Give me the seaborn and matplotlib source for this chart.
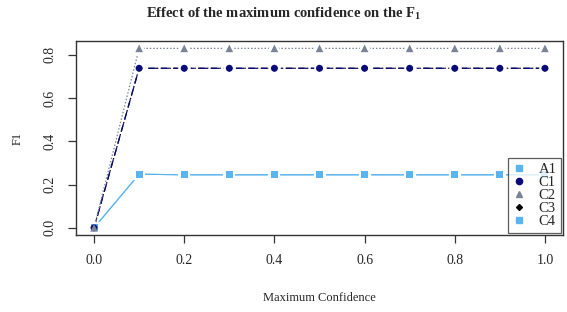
import numpy as np
import pandas as pd
import matplotlib
matplotlib.use("Agg")
import matplotlib.pyplot as plt
import seaborn as sns
from matplotlib.lines import Line2D

# 数据：最大置信度 vs F1
max_conf = [0.0, 0.1, 0.2, 0.3, 0.4, 0.5, 0.6, 0.7, 0.8, 0.9, 1.0]
f1_a1 = [0.0, 0.248, 0.245, 0.245, 0.245, 0.245, 0.245, 0.245, 0.245, 0.245, 0.245]
f1_c1 = [0.0, 0.737, 0.737, 0.737, 0.737, 0.737, 0.737, 0.737, 0.737, 0.737, 0.737]
f1_c2 = [0.0, 0.829, 0.829, 0.829, 0.829, 0.829, 0.829, 0.829, 0.829, 0.829, 0.829]
f1_c3 = [0.0, 0.737, 0.737, 0.737, 0.737, 0.737, 0.737, 0.737, 0.737, 0.737, 0.737]
f1_c4 = [0.0, 0.248, 0.245, 0.245, 0.245, 0.245, 0.245, 0.245, 0.245, 0.245, 0.245]
series_names = ["A1", "C1", "C2", "C3", "C4"]

sns.set_style("ticks")
plt.rcParams["font.family"] = ["Liberation Serif", "DejaVu Serif"]
plt.rcParams["mathtext.fontset"] = "custom"
plt.rcParams["mathtext.rm"] = "Liberation Serif"
plt.rcParams["mathtext.bf"] = "Liberation Serif:bold"

df = pd.DataFrame({"x": max_conf, "A1": f1_a1, "C1": f1_c1, "C2": f1_c2,
                   "C3": f1_c3, "C4": f1_c4})

# 样式（颜色、标记、线型）
styles = {
    "A1": dict(color="#5AB4F0", marker="s", ls="-", ms=5),
    "C1": dict(color="#0A0A78", marker="o", ls=(0, (7, 3)), ms=5),
    "C2": dict(color="#7A8496", marker="^", ls=(0, (1.2, 1.5)), ms=5.5),
    "C3": dict(color="black", marker="D", ls=(0, (5, 2, 1, 2)), ms=3.5),
    "C4": dict(color="#5AB4F0", marker="s", ls="-", ms=5),
}

fig = plt.figure(figsize=(5.67, 3.12), dpi=100)
ax = fig.add_axes([76 / 567, 1 - 235 / 312, (563 - 76) / 567, (235 - 41) / 312])

for name in ["C3", "C4", "A1", "C1", "C2"]:
    st = styles[name]
    lw = 0.8 if st["ls"] == "-" else 0.9
    sns.lineplot(data=df, x="x", y=name, ax=ax, color=st["color"], marker=st["marker"],
                 markersize=st["ms"] + 1, markeredgecolor="white", markeredgewidth=3,
                 linestyle=st["ls"], linewidth=lw, legend=False)
    # 再画一次标记，去掉白边
    sns.scatterplot(data=df, x="x", y=name, ax=ax, color=st["color"], marker=st["marker"],
                    s=st["ms"] ** 2, edgecolor="none", legend=False, zorder=5)

ax.set_xlim(-0.04, 1.04)
ax.set_ylim(-0.033, 0.863)
ax.set_xticks([0.0, 0.2, 0.4, 0.6, 0.8, 1.0])
ax.set_xticklabels(["0.0", "0.2", "0.4", "0.6", "0.8", "1.0"])
ax.set_yticks([0.0, 0.2, 0.4, 0.6, 0.8])
ax.set_yticklabels(["0.0", "0.2", "0.4", "0.6", "0.8"], rotation=90, va="center")
ax.tick_params(axis="both", direction="out", length=6, width=0.9, color="#333333",
               labelsize=10, pad=8)
for sp in ax.spines.values():
    sp.set_visible(True)
    sp.set_color("#333333")
    sp.set_linewidth(1.0)

ax.set_xlabel("Maximum Confidence", fontsize=9, labelpad=18)
ax.set_ylabel("F1", fontsize=9, labelpad=14)
fig.text(0.5, 1 - 14 / 312, r"Effect of the maximum confidence on the $\mathbf{F_1}$",
         ha="center", va="center", fontsize=10.5, fontweight="bold")

handles = [Line2D([], [], linestyle="none", marker=styles[n]["marker"],
                  color=styles[n]["color"], markersize=styles[n]["ms"] - 0.5)
           for n in series_names]
leg = ax.legend(handles, series_names, loc="lower right", fontsize=10.5, frameon=True,
                fancybox=False, borderaxespad=0.15, handlelength=1.0, handletextpad=0.8,
                labelspacing=0.0, borderpad=0.3)
leg.get_frame().set_edgecolor("#333333")
leg.get_frame().set_linewidth(0.9)

fig.savefig("out.png", dpi=100)
